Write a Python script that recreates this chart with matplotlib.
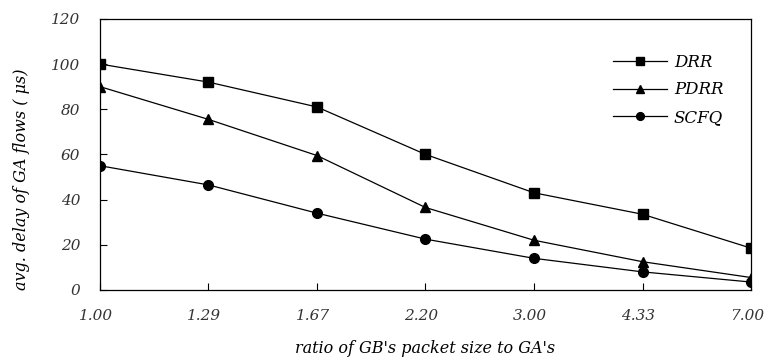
import matplotlib
matplotlib.use("Agg")
import matplotlib.pyplot as plt
import matplotlib.transforms as mtransforms
import numpy as np

ratios = ["1.00", "1.29", "1.67", "2.20", "3.00", "4.33", "7.00"]
drr = [100, 92, 81, 60, 43, 33.5, 18.5]
pdrr = [90, 75.5, 59.5, 36.5, 22, 12.5, 5.5]
scfq = [55, 46.5, 34, 22.5, 14, 8, 3.5]

plt.rcParams.update({
    "font.family": "serif",
    "font.serif": ["DejaVu Serif"],
    "font.style": "italic",
    "font.size": 11,
})

fig = plt.figure(figsize=(7.68, 3.62), dpi=100)
ax = fig.add_axes([0.130, 0.199, 0.848, 0.749])

x = np.arange(len(ratios))
ax.plot(x, drr, marker="s", markersize=7, color="black", linewidth=0.9, label="DRR")
ax.plot(x, pdrr, marker="^", markersize=7, color="black", linewidth=0.9, label="PDRR")
ax.plot(x, scfq, marker="o", markersize=7, color="black", linewidth=0.9, label="SCFQ")

ax.set_xlim(0, 6)
ax.set_ylim(0, 120)
ax.set_yticks(range(0, 121, 20))
ax.set_xticks(x)
ax.set_xticklabels(ratios)
ax.tick_params(direction="in", length=5, width=0.8, labelsize=11, colors="black")
ax.tick_params(axis="x", pad=14)
ax.tick_params(axis="y", pad=14)
# labels sit a bit left of their ticks in the original
shift = mtransforms.ScaledTranslation(-4 / 100, 0, fig.dpi_scale_trans)
for lab in ax.get_xticklabels():
    lab.set_transform(lab.get_transform() + shift)
for lab in ax.get_xticklabels() + ax.get_yticklabels():
    lab.set_color("#333333")
for s in ax.spines.values():
    s.set_linewidth(0.9)

ax.set_xlabel("ratio of GB's packet size to GA's", fontsize=11.5, labelpad=12)
ax.set_ylabel("avg. delay of GA flows ( μs)", fontsize=11.5, labelpad=14)
ax.yaxis.set_label_coords(-0.108, 0.41)

ax.legend(loc="upper left", bbox_to_anchor=(0.788, 0.87), frameon=False,
          borderpad=0, borderaxespad=0, handlelength=3.25, handletextpad=0.4,
          fontsize=12, labelspacing=0.62, markerscale=0.8)

fig.savefig("out.png", dpi=100)
